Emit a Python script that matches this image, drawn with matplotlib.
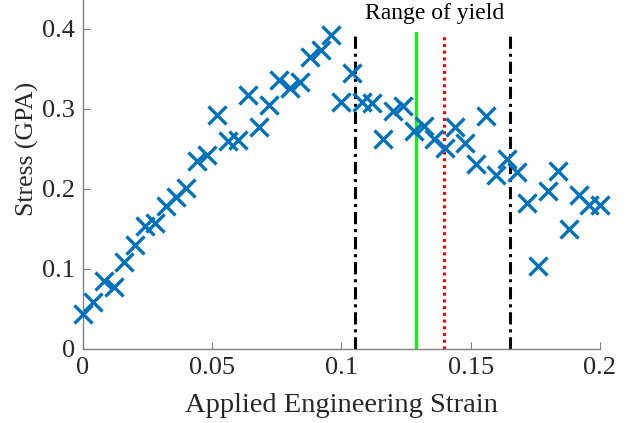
import matplotlib
matplotlib.use('Agg')
import matplotlib.pyplot as plt
import numpy as np

# -----------------------------------------------------------------------------
# data

strain = [0.000, 0.004, 0.008, 0.012, 0.016, 0.020, 0.024, 0.028, 0.032, 0.036,
          0.040, 0.044, 0.048, 0.052, 0.056, 0.060, 0.064, 0.068, 0.072, 0.076,
          0.080, 0.084, 0.088, 0.092, 0.096, 0.100, 0.104, 0.108, 0.112, 0.116,
          0.120, 0.124, 0.128, 0.132, 0.136, 0.140, 0.144, 0.148, 0.152, 0.156,
          0.160, 0.164, 0.168, 0.172, 0.176, 0.180, 0.184, 0.188, 0.192, 0.196,
          0.200]
stress = [0.044, 0.059, 0.085, 0.077, 0.109, 0.130, 0.154, 0.157, 0.179, 0.190,
          0.201, 0.235, 0.242, 0.292, 0.260, 0.261, 0.317, 0.278, 0.305, 0.336,
          0.326, 0.334, 0.365, 0.374, 0.392, 0.309, 0.345, 0.309, 0.307, 0.262,
          0.297, 0.304, 0.272, 0.279, 0.262, 0.251, 0.278, 0.258, 0.231, 0.291,
          0.218, 0.238, 0.221, 0.182, 0.104, 0.197, 0.223, 0.150, 0.193, 0.180,
          0.180]

yield_low = 0.1054
yield_high = 0.1654
yield_green = 0.1288
yield_red = 0.1397
line_top = 0.395

xticks = [0, 0.05, 0.1, 0.15, 0.2]
xticklabels = ['0', '0.05', '0.1', '0.15', '0.2']
yticks = [0, 0.1, 0.2, 0.3, 0.4]
yticklabels = ['0', '0.1', '0.2', '0.3', '0.4']

# -----------------------------------------------------------------------------
# plot

plt.rcParams['font.family'] = ['Liberation Serif', 'DejaVu Serif']

fig = plt.figure(figsize=(6.34, 4.23), dpi=100)
# axes reach above the top edge (the figure looks cropped there)
ax = fig.add_axes([0.131, 0.175, 0.815, 0.9456])

ax.plot(strain, stress, 'x', color='#0072BD', markersize=12.5, markeredgewidth=2.4,
        zorder=3, clip_on=False)

ax.plot([yield_low, yield_low], [0, line_top], color='black', lw=2.2,
        dashes=(4, 1.6, 1, 1.6), zorder=2)
ax.plot([yield_high, yield_high], [0, line_top], color='black', lw=2.2,
        dashes=(4, 1.6, 1, 1.6), zorder=2)
ax.plot([yield_green, yield_green], [0, line_top], color='#00FF00', lw=2.2, zorder=2)
ax.plot([yield_red, yield_red], [0, line_top], color='red', lw=2.2,
        dashes=(1, 1.2), zorder=2)

ax.text(0.136, 0.419, 'Range of yield', ha='center', va='center', fontsize=17)

ax.set_xlim(0, 0.2)
ax.set_ylim(0, 0.5)
ax.set_xticks(xticks)
ax.set_xticklabels(xticklabels)
ax.set_yticks(yticks)
ax.set_yticklabels(yticklabels)
ax.tick_params(direction='in', length=5, width=0.8, colors='#808080',
               labelcolor='#262626', labelsize=19, pad=6)

for side in ['top', 'right']:
    ax.spines[side].set_visible(False)
for side in ['left', 'bottom']:
    ax.spines[side].set_color('#808080')
    ax.spines[side].set_linewidth(1.0)

ax.set_xlabel('Applied Engineering Strain', fontsize=20.5, color='#262626', labelpad=10)
ax.set_ylabel('Stress (GPA)', fontsize=18.5, color='#262626', labelpad=2)

fig.savefig('out.png', dpi=100)
